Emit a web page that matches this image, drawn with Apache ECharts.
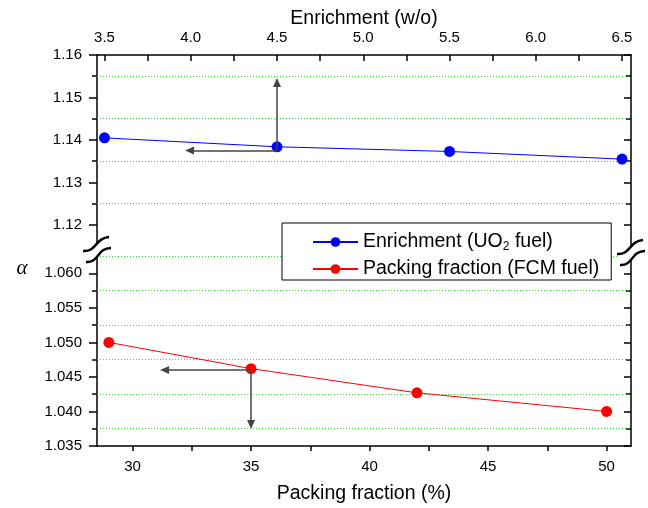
<!DOCTYPE html>
<html><head><meta charset="utf-8">
<script src="https://cdn.jsdelivr.net/npm/echarts@6/dist/echarts.min.js"></script>
<style>html,body{margin:0;padding:0;background:#fff}#c{width:648px;height:508px}</style>
</head><body><div id="c"></div>
<script>
// ---- data ----
const enrichment = [3.5, 4.5, 5.5, 6.5];
const alphaEnrichment = [1.1405, 1.1384, 1.1373, 1.1355];
const packingFraction = [29, 35, 42, 50];
const alphaPacking = [1.0500, 1.0462, 1.0427, 1.0400];

const seriesNames = ['Enrichment (UO2 fuel)', 'Packing fraction (FCM fuel)'];

// ---- tick labels ----
const enrichTicks = [3.5, 4.0, 4.5, 5.0, 5.5, 6.0, 6.5];
const enrichMinorTicks = [3.5, 3.75, 4.0, 4.25, 4.5, 4.75, 5.0, 5.25, 5.5, 5.75, 6.0, 6.25, 6.5];
const packingTicks = [30, 35, 40, 45, 50];
const packingMinorTicks = [30, 32.5, 35, 37.5, 40, 42.5, 45, 47.5, 50];
const alphaTopTicks = [1.12, 1.13, 1.14, 1.15, 1.16];
const alphaTopMinor = [1.125, 1.135, 1.145, 1.155];
const alphaBottomTicks = [1.035, 1.040, 1.045, 1.050, 1.055, 1.060];
const alphaBottomMinor = [1.0375, 1.0425, 1.0475, 1.0525, 1.0575, 1.0625];

// ---- axis ranges ----
const enrichRange = [3.4565, 6.552];
const packingRange = [28.5, 51.03];
const alphaTopRange = [1.11435, 1.16];
const alphaBottomRange = [1.035, 1.06352];

// ---- annotation arrows [fromX, fromY, toX, toY] in data units ----
const enrichArrows = [[4.5, 1.1375, 3.993, 1.1375], [4.5, 1.1375, 4.5, 1.1535]];
const packingArrows = [[35, 1.0460, 31.35, 1.0460], [35, 1.0460, 35, 1.0381]];

const FONT = '"Liberation Sans", Arial, sans-serif';
const AX = {color: '#000', width: 1.5};

function yAxisSet(gridIndex, range, major, minor, digits) {
  const base = {type: 'value', gridIndex, min: range[0], max: range[1],
    splitLine: {show: false}, axisLine: {show: false}, axisLabel: {show: false}, axisTick: {show: false}};
  return [
    Object.assign({}, base, {position: 'left',
      axisLine: {show: true, onZero: false, lineStyle: AX},
      axisTick: {show: true, inside: false, length: 8, customValues: major, lineStyle: AX},
      axisLabel: {show: true, customValues: major, margin: 15, fontSize: 15, fontFamily: FONT, color: '#000',
        formatter: v => Number(v).toFixed(digits)}}),
    Object.assign({}, base, {position: 'left',
      axisTick: {show: true, inside: false, length: 5, customValues: minor, lineStyle: AX}}),
    Object.assign({}, base, {position: 'right',
      axisLine: {show: true, onZero: false, lineStyle: AX},
      axisTick: {show: true, inside: true, length: 7, customValues: major, lineStyle: AX}}),
    Object.assign({}, base, {position: 'right',
      axisTick: {show: true, inside: true, length: 5, customValues: minor, lineStyle: AX}})
  ];
}

function gridLines(vals) {
  return {silent: true, symbol: 'none', z: 1, precision: 6, label: {show: false},
    lineStyle: {color: '#33e033', width: 1, type: [1, 2]},
    emphasis: {disabled: true},
    data: vals.map(v => ({yAxis: v}))};
}
function arrows(list) {
  return {silent: true, symbol: ['none', 'triangle'], symbolSize: [8, 9], precision: 6, label: {show: false},
    lineStyle: {color: '#444', width: 1.5, type: 'solid'},
    itemStyle: {color: '#000'},
    emphasis: {disabled: true},
    data: list.map(a => [{coord: [a[0], a[1]]}, {coord: [a[2], a[3]]}])};
}

const chart = echarts.init(document.getElementById('c'), null, {renderer: 'canvas'});
chart.setOption({
  animation: false,
  backgroundColor: '#fff',
  grid: [
    {left: 97, width: 534, top: 55, height: 194},
    {left: 97, width: 534, top: 249, height: 197}
  ],
  xAxis: [
    {type: 'value', gridIndex: 0, position: 'top', min: enrichRange[0], max: enrichRange[1],
      splitLine: {show: false},
      axisLine: {show: true, onZero: false, lineStyle: AX},
      axisTick: {show: true, inside: true, length: 6, customValues: enrichMinorTicks, lineStyle: AX},
      axisLabel: {customValues: enrichTicks, margin: 10, fontSize: 15, fontFamily: FONT, color: '#000',
        formatter: v => Number(v).toFixed(1)},
      name: 'Enrichment (w/o)', nameLocation: 'middle', nameGap: 26,
      nameTextStyle: {fontSize: 19.5, fontFamily: FONT, color: '#000'}},
    {type: 'value', gridIndex: 1, position: 'bottom', min: packingRange[0], max: packingRange[1],
      splitLine: {show: false},
      axisLine: {show: true, onZero: false, lineStyle: AX},
      axisTick: {show: true, inside: false, length: 5, customValues: packingMinorTicks, lineStyle: AX},
      axisLabel: {customValues: packingTicks, margin: 13, fontSize: 15, fontFamily: FONT, color: '#000'},
      name: 'Packing fraction (%)', nameLocation: 'middle', nameGap: 38,
      nameTextStyle: {fontSize: 19.5, fontFamily: FONT, color: '#000'}}
  ],
  yAxis: [].concat(
    yAxisSet(0, alphaTopRange, alphaTopTicks, alphaTopMinor, 2),
    yAxisSet(1, alphaBottomRange, alphaBottomTicks, alphaBottomMinor, 3)
  ),
  legend: {
    orient: 'vertical', left: 282, top: 223, padding: [8, 12, 0, 30], itemGap: 5,
    itemWidth: 45, itemHeight: 12, borderColor: '#000', borderWidth: 1, backgroundColor: '#fff',
    data: seriesNames,
    formatter: n => n.replace('UO2', 'UO{sub|2}'),
    textStyle: {fontSize: 19.5, fontFamily: FONT, color: '#000', lineHeight: 22,
      rich: {sub: {fontSize: 12, lineHeight: 12, padding: [10, 0, 0, 0], fontFamily: FONT, color: '#000'}}}
  },
  graphic: [
    {type: 'bezierCurve', z: 100, shape: {x1: 85, y1: 256, cpx1: 98, cpy1: 257, cpx2: 96, cpy2: 243, x2: 110, y2: 242},
      style: {stroke: '#fff', lineWidth: 9, fill: 'none'}},
    {type: 'bezierCurve', z: 101, shape: {x1: 83, y1: 251, cpx1: 97, cpy1: 252, cpx2: 95, cpy2: 238, x2: 109, y2: 237},
      style: {stroke: '#000', lineWidth: 2.5, fill: 'none'}},
    {type: 'bezierCurve', z: 101, shape: {x1: 86, y1: 262, cpx1: 99, cpy1: 263, cpx2: 97, cpy2: 248, x2: 111, y2: 248},
      style: {stroke: '#000', lineWidth: 2.5, fill: 'none'}},
    {type: 'bezierCurve', z: 100, shape: {x1: 619, y1: 259, cpx1: 632, cpy1: 260, cpx2: 630, cpy2: 246, x2: 644, y2: 245},
      style: {stroke: '#fff', lineWidth: 9, fill: 'none'}},
    {type: 'bezierCurve', z: 101, shape: {x1: 617, y1: 254, cpx1: 631, cpy1: 255, cpx2: 629, cpy2: 241, x2: 643, y2: 240},
      style: {stroke: '#000', lineWidth: 2.5, fill: 'none'}},
    {type: 'bezierCurve', z: 101, shape: {x1: 620, y1: 265, cpx1: 633, cpy1: 266, cpx2: 631, cpy2: 251, x2: 645, y2: 251},
      style: {stroke: '#000', lineWidth: 2.5, fill: 'none'}},
    {type: 'text', x: 22, y: 268.5, z: 100,
      style: {text: 'α', fontSize: 21, fontStyle: 'italic', fontFamily: '"Liberation Serif", "Times New Roman", serif',
        fill: '#000', align: 'center', verticalAlign: 'middle'}}
  ],
  series: [
    {name: seriesNames[0], type: 'line', xAxisIndex: 0, yAxisIndex: 0, z: 3,
      data: enrichment.map((x, i) => [x, alphaEnrichment[i]]),
      symbol: 'circle', symbolSize: 11, itemStyle: {color: '#0000ff'},
      lineStyle: {color: '#0000ff', width: 1},
      markLine: arrows(enrichArrows)},
    {name: seriesNames[1], type: 'line', xAxisIndex: 1, yAxisIndex: 4, z: 3,
      data: packingFraction.map((x, i) => [x, alphaPacking[i]]),
      symbol: 'circle', symbolSize: 11, itemStyle: {color: '#ff0000'},
      lineStyle: {color: '#ff0000', width: 1},
      markLine: arrows(packingArrows)},
    {name: 'gridTop', type: 'line', xAxisIndex: 0, yAxisIndex: 0, z: 1, data: [],
      markLine: gridLines(alphaTopMinor)},
    {name: 'gridBottom', type: 'line', xAxisIndex: 1, yAxisIndex: 4, z: 1, data: [],
      markLine: gridLines(alphaBottomMinor)}
  ]
});
</script>
</body></html>
